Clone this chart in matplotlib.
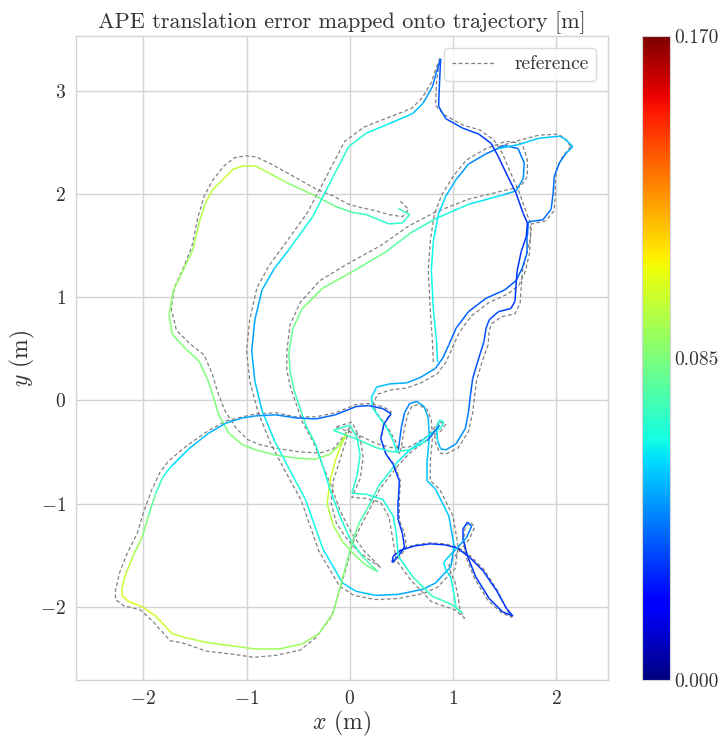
import matplotlib
matplotlib.use("Agg")
import matplotlib.pyplot as plt
import numpy as np
from matplotlib.collections import LineCollection
from matplotlib.colors import Normalize

plt.rcParams.update({
    "font.family": "serif",
    "font.serif": ["cmr10"],
    "mathtext.fontset": "cm",
    "axes.formatter.use_mathtext": True,
    "axes.unicode_minus": True,
})

# estimated trajectory (x, y) in m and APE translation error (m) per pose, one list per stretch
est_a = [(0.47, 1.86), (0.58, 1.80), (0.51, 1.72), (0.38, 1.71), (0.28, 1.75), (0.16, 1.80), (0.03, 1.82),
         (-0.14, 1.88), (-0.33, 1.98), (-0.59, 2.10), (-0.78, 2.20), (-0.91, 2.27), (-1.04, 2.27), (-1.13, 2.24),
         (-1.23, 2.14), (-1.33, 2.04), (-1.40, 1.91), (-1.46, 1.72), (-1.52, 1.46), (-1.62, 1.25), (-1.71, 1.06),
         (-1.75, 0.83), (-1.72, 0.64), (-1.59, 0.50), (-1.46, 0.38), (-1.38, 0.21), (-1.33, 0.06), (-1.27, -0.14),
         (-1.17, -0.32), (-1.04, -0.43), (-0.91, -0.48), (-0.72, -0.53), (-0.52, -0.56), (-0.33, -0.57),
         (-0.19, -0.52), (-0.10, -0.43), (-0.03, -0.32), (-0.09, -0.45), (-0.14, -0.58), (-0.19, -0.78),
         (-0.22, -1.00), (-0.16, -1.21), (-0.07, -1.37), (0.05, -1.50), (0.16, -1.60), (0.27, -1.66),
         (0.12, -1.51), (0.00, -1.34), (-0.10, -1.11), (-0.19, -0.87), (-0.26, -0.64), (-0.33, -0.43),
         (-0.43, -0.23), (-0.48, -0.08), (-0.54, 0.10), (-0.58, 0.29), (-0.59, 0.47), (-0.55, 0.70),
         (-0.46, 0.89), (-0.26, 1.09), (0.03, 1.25), (0.35, 1.44), (0.60, 1.63), (0.83, 1.76), (1.15, 1.90),
         (1.48, 1.99), (1.61, 2.03), (1.68, 2.15), (1.69, 2.30), (1.63, 2.44), (1.50, 2.47), (1.32, 2.39),
         (1.15, 2.29), (1.03, 2.14), (0.93, 1.98), (0.86, 1.81), (0.81, 1.55), (0.79, 1.26), (0.81, 0.87),
         (0.84, 0.58), (0.85, 0.37)]
err_a = [0.07, 0.07, 0.07, 0.068, 0.07, 0.072, 0.075, 0.08, 0.085, 0.09, 0.093, 0.097, 0.099, 0.10,
         0.10, 0.099, 0.097, 0.095, 0.093, 0.091, 0.089, 0.087, 0.086, 0.086, 0.085, 0.085, 0.085, 0.085,
         0.085, 0.085, 0.085, 0.085, 0.086, 0.087, 0.09, 0.093, 0.097, 0.10, 0.102, 0.102, 0.10, 0.093,
         0.09, 0.087, 0.085, 0.08, 0.072, 0.068, 0.066, 0.065, 0.065, 0.067, 0.07, 0.072, 0.075, 0.078,
         0.08, 0.082, 0.085, 0.085, 0.085, 0.08, 0.075, 0.068, 0.062, 0.058, 0.05, 0.045, 0.042, 0.04,
         0.04, 0.042, 0.045, 0.05, 0.055, 0.06, 0.062, 0.063, 0.063, 0.062, 0.06]

est_b = [(2.16, 2.46), (2.09, 2.53), (2.03, 2.56), (1.83, 2.54), (1.64, 2.48), (1.44, 2.44)]
err_b = [0.055, 0.055, 0.055, 0.055, 0.055, 0.055]

est_c = [(2.16, 2.46), (2.09, 2.39), (2.03, 2.30), (1.98, 2.17), (1.97, 2.01), (1.95, 1.85), (1.87, 1.75),
         (1.73, 1.73), (1.72, 1.59), (1.72, 1.44), (1.67, 1.28), (1.61, 1.16), (1.50, 1.07), (1.32, 0.99),
         (1.15, 0.86), (1.03, 0.70), (0.96, 0.54), (0.90, 0.41), (0.83, 0.31), (0.68, 0.22), (0.55, 0.17),
         (0.39, 0.16), (0.26, 0.13), (0.21, 0.03), (0.22, -0.07), (0.29, -0.17), (0.36, -0.27),
         (0.42, -0.39), (0.46, -0.51)]
err_c = [0.055, 0.045, 0.04, 0.04, 0.04, 0.04, 0.04, 0.04, 0.04, 0.04, 0.038, 0.037, 0.037, 0.037,
         0.037, 0.038, 0.04, 0.042, 0.045, 0.048, 0.05, 0.052, 0.055, 0.058, 0.062, 0.065, 0.065,
         0.065, 0.065]

est_d = [(0.47, -0.48), (0.50, -0.26), (0.53, -0.12), (0.58, -0.03), (0.65, -0.01), (0.72, -0.06),
         (0.76, -0.17), (0.77, -0.36), (0.75, -0.58), (0.75, -0.78),
         (0.83, -0.86), (0.96, -1.12), (1.01, -1.41), (0.98, -1.61), (0.83, -1.77), (0.71, -1.83),
         (0.47, -1.88), (0.25, -1.89), (0.06, -1.85), (-0.07, -1.77), (-0.26, -1.44), (-0.43, -0.96),
         (-0.60, -0.64), (-0.73, -0.39), (-0.85, -0.10), (-0.92, 0.19), (-0.95, 0.48), (-0.92, 0.78),
         (-0.85, 1.07), (-0.73, 1.28), (-0.59, 1.46), (-0.36, 1.78), (-0.16, 2.17), (-0.01, 2.46),
         (0.16, 2.59), (0.38, 2.68), (0.61, 2.78), (0.71, 2.88), (0.80, 3.04), (0.84, 3.18), (0.88, 3.31),
         (0.87, 3.10), (0.86, 2.85), (0.93, 2.73), (1.09, 2.64), (1.25, 2.58), (1.37, 2.49), (1.44, 2.36),
         (1.53, 2.17), (1.61, 2.01), (1.68, 1.81), (1.72, 1.72), (1.71, 1.59), (1.66, 1.44), (1.62, 1.25),
         (1.60, 0.96), (1.56, 0.89), (1.44, 0.86), (1.35, 0.78), (1.32, 0.70), (1.30, 0.57), (1.24, 0.38),
         (1.19, 0.21), (1.17, 0.06), (1.15, -0.11), (1.12, -0.27), (1.03, -0.42), (0.93, -0.48),
         (0.88, -0.47), (0.85, -0.39), (0.84, -0.27), (0.87, -0.19), (0.91, -0.21), (0.88, -0.27),
         (0.80, -0.31), (0.70, -0.39), (0.58, -0.48), (0.46, -0.60), (0.38, -0.70), (0.28, -0.83),
         (0.18, -1.03), (0.09, -1.19), (0.03, -1.35), (-0.04, -1.61), (-0.11, -1.87), (-0.16, -2.06),
         (-0.30, -2.26), (-0.46, -2.36), (-0.69, -2.41), (-0.91, -2.41), (-1.13, -2.38), (-1.37, -2.35),
         (-1.59, -2.30), (-1.72, -2.26), (-1.88, -2.09), (-2.01, -2.00), (-2.14, -1.95), (-2.20, -1.90),
         (-2.21, -1.83), (-2.17, -1.68), (-2.10, -1.51), (-2.01, -1.32), (-1.95, -1.12), (-1.88, -0.90),
         (-1.81, -0.74), (-1.73, -0.64), (-1.56, -0.47), (-1.37, -0.32), (-1.20, -0.22), (-1.04, -0.17),
         (-0.91, -0.15), (-0.72, -0.14), (-0.52, -0.17), (-0.33, -0.18), (-0.14, -0.14), (0.06, -0.06),
         (0.18, -0.05), (0.32, -0.08), (0.40, -0.13), (0.33, -0.23), (0.30, -0.37), (0.35, -0.52),
         (0.42, -0.62), (0.48, -0.78), (0.47, -0.97), (0.47, -1.16), (0.51, -1.29), (0.53, -1.42),
         (0.47, -1.51), (0.41, -1.57), (0.42, -1.51), (0.50, -1.45), (0.63, -1.41), (0.78, -1.39),
         (0.92, -1.40), (1.04, -1.43), (1.16, -1.52), (1.29, -1.65), (1.42, -1.84), (1.52, -2.02),
         (1.58, -2.09), (1.48, -2.05), (1.35, -1.92), (1.22, -1.71), (1.14, -1.51), (1.10, -1.35),
         (1.10, -1.24), (1.14, -1.18), (1.18, -1.22), (1.13, -1.33), (1.05, -1.42), (0.97, -1.50),
         (0.91, -1.57), (0.93, -1.64), (0.98, -1.72), (1.01, -1.88), (1.03, -2.01), (1.09, -2.06),
         (0.99, -1.98), (0.90, -1.94), (0.80, -1.90), (0.61, -1.71), (0.47, -1.51), (0.45, -1.29),
         (0.42, -1.12), (0.32, -0.96), (0.16, -0.91), (0.02, -0.90), (0.07, -0.73), (0.10, -0.53),
         (0.07, -0.36), (0.00, -0.24), (-0.16, -0.29), (0.03, -0.36), (0.26, -0.46), (0.42, -0.50),
         (0.58, -0.48), (0.75, -0.39), (0.87, -0.24)]
err_d = [0.04, 0.04, 0.042, 0.045, 0.048, 0.05, 0.052, 0.053, 0.055, 0.055,
         0.055, 0.055, 0.05, 0.05, 0.05, 0.05, 0.05, 0.052, 0.055, 0.058, 0.062, 0.065, 0.065, 0.062,
         0.058, 0.052, 0.048, 0.048, 0.05, 0.055, 0.06, 0.065, 0.068, 0.068, 0.065, 0.06, 0.055, 0.05,
         0.045, 0.04, 0.035,
         0.035, 0.035, 0.035, 0.033, 0.032, 0.03, 0.03, 0.03, 0.03, 0.03, 0.03, 0.03, 0.03, 0.03, 0.03,
         0.032, 0.033, 0.035, 0.035, 0.035, 0.035, 0.035, 0.037, 0.04, 0.045, 0.045, 0.048, 0.05, 0.055,
         0.06, 0.065, 0.065, 0.065, 0.063, 0.06, 0.06, 0.062, 0.065, 0.068, 0.072, 0.078, 0.083, 0.086,
         0.087, 0.089, 0.09, 0.091, 0.092, 0.093, 0.094, 0.096, 0.098, 0.10, 0.102, 0.104, 0.105, 0.104,
         0.102, 0.10, 0.096, 0.09, 0.082, 0.075, 0.067, 0.06, 0.055, 0.052, 0.05, 0.05, 0.048, 0.045,
         0.042, 0.04, 0.038, 0.036, 0.035, 0.033, 0.033, 0.033, 0.033, 0.032, 0.032, 0.032, 0.032,
         0.032, 0.03, 0.03, 0.03, 0.03, 0.03, 0.03, 0.03, 0.03, 0.03, 0.03, 0.03, 0.03, 0.03, 0.03,
         0.03, 0.03, 0.03, 0.03, 0.03, 0.03, 0.033, 0.035, 0.04, 0.045, 0.05, 0.055, 0.058, 0.06, 0.062,
         0.065, 0.068,
         0.07, 0.07, 0.07, 0.07, 0.068, 0.066, 0.065, 0.065, 0.066, 0.068, 0.068, 0.068, 0.068, 0.068,
         0.068, 0.07, 0.07, 0.07, 0.068, 0.066, 0.065]

# reference (ground truth) trajectory, one list per stretch
ref_a = [(0.49, 1.93), (0.57, 1.85), (0.51, 1.78), (0.38, 1.80), (0.24, 1.84), (0.10, 1.87), (-0.01, 1.90),
         (-0.16, 1.98), (-0.33, 2.05), (-0.58, 2.19), (-0.78, 2.30), (-0.91, 2.36), (-1.01, 2.37),
         (-1.12, 2.35), (-1.22, 2.27), (-1.33, 2.13), (-1.41, 1.98), (-1.47, 1.78), (-1.53, 1.49),
         (-1.61, 1.29), (-1.70, 1.09), (-1.73, 0.89), (-1.68, 0.68), (-1.55, 0.55), (-1.41, 0.44),
         (-1.33, 0.25), (-1.28, 0.08), (-1.21, -0.10), (-1.10, -0.27), (-0.99, -0.38), (-0.87, -0.43),
         (-0.68, -0.47), (-0.48, -0.50), (-0.29, -0.51), (-0.16, -0.47), (-0.07, -0.36), (0.00, -0.26),
         (-0.04, -0.40), (-0.09, -0.56), (-0.16, -0.78), (-0.18, -1.00), (-0.13, -1.19), (-0.03, -1.34),
         (0.09, -1.47), (0.21, -1.56), (0.30, -1.62), (0.14, -1.46), (0.02, -1.29), (-0.09, -1.08),
         (-0.18, -0.83), (-0.27, -0.61), (-0.35, -0.41), (-0.46, -0.21), (-0.51, -0.06), (-0.57, 0.11),
         (-0.61, 0.29), (-0.61, 0.47), (-0.58, 0.73), (-0.48, 0.95), (-0.29, 1.16), (-0.01, 1.33),
         (0.30, 1.50), (0.57, 1.69), (0.82, 1.82), (1.15, 1.95), (1.48, 2.03), (1.65, 2.07), (1.72, 2.17),
         (1.72, 2.33), (1.67, 2.49), (1.51, 2.51), (1.32, 2.44), (1.13, 2.33), (1.00, 2.17), (0.89, 1.99),
         (0.82, 1.81), (0.78, 1.55), (0.76, 1.26), (0.78, 0.87), (0.80, 0.58), (0.81, 0.35)]
ref_b = [(2.14, 2.46), (2.07, 2.55), (2.01, 2.58), (1.83, 2.57), (1.64, 2.52), (1.44, 2.46)]
ref_c = [(2.14, 2.46), (2.06, 2.36), (2.01, 2.26), (1.99, 2.13), (1.99, 1.98), (1.98, 1.84), (1.90, 1.74),
         (1.76, 1.71), (1.75, 1.57), (1.74, 1.42), (1.70, 1.25), (1.64, 1.12), (1.53, 1.03), (1.35, 0.95),
         (1.18, 0.82), (1.06, 0.66), (0.99, 0.50), (0.93, 0.37), (0.85, 0.26), (0.69, 0.17), (0.55, 0.12),
         (0.39, 0.10), (0.27, 0.06), (0.23, -0.02), (0.25, -0.11), (0.32, -0.20), (0.39, -0.30),
         (0.45, -0.41), (0.48, -0.52)]
ref_d = [(0.49, -0.50), (0.53, -0.27), (0.56, -0.14), (0.60, -0.06), (0.66, -0.04), (0.75, -0.09),
         (0.79, -0.19), (0.80, -0.37), (0.78, -0.59), (0.78, -0.78),
         (0.87, -0.86), (1.00, -1.12), (1.05, -1.42), (1.02, -1.63), (0.85, -1.81), (0.72, -1.87),
         (0.47, -1.92), (0.25, -1.93), (0.04, -1.89), (-0.10, -1.80), (-0.30, -1.46), (-0.47, -0.97),
         (-0.64, -0.66), (-0.77, -0.41), (-0.89, -0.11), (-0.97, 0.19), (-1.00, 0.48), (-0.97, 0.78),
         (-0.90, 1.09), (-0.78, 1.31), (-0.64, 1.50), (-0.41, 1.82), (-0.20, 2.22), (-0.05, 2.51),
         (0.14, 2.65), (0.37, 2.74), (0.60, 2.83), (0.70, 2.93), (0.79, 3.08), (0.83, 3.20), (0.87, 3.31),
         (0.84, 3.08), (0.83, 2.86), (0.91, 2.77), (1.09, 2.67), (1.26, 2.62), (1.40, 2.52), (1.48, 2.39),
         (1.56, 2.20), (1.64, 2.02), (1.71, 1.82), (1.75, 1.72), (1.75, 1.57), (1.71, 1.42), (1.67, 1.24),
         (1.65, 0.94), (1.60, 0.84), (1.47, 0.81), (1.37, 0.74), (1.35, 0.67), (1.34, 0.54), (1.28, 0.37),
         (1.23, 0.20), (1.21, 0.05), (1.19, -0.12), (1.15, -0.30), (1.05, -0.46), (0.93, -0.52),
         (0.87, -0.51), (0.83, -0.41), (0.82, -0.29), (0.87, -0.21), (0.93, -0.23), (0.88, -0.30),
         (0.80, -0.34), (0.70, -0.42), (0.58, -0.51), (0.47, -0.63), (0.39, -0.73), (0.29, -0.86),
         (0.19, -1.06), (0.10, -1.23), (0.03, -1.38), (-0.04, -1.64), (-0.12, -1.91), (-0.18, -2.10),
         (-0.33, -2.30), (-0.48, -2.42), (-0.71, -2.47), (-0.93, -2.49), (-1.13, -2.46), (-1.39, -2.43),
         (-1.62, -2.35), (-1.74, -2.33), (-1.91, -2.14), (-2.03, -2.03), (-2.19, -1.99), (-2.27, -1.93),
         (-2.27, -1.84), (-2.23, -1.67), (-2.16, -1.49), (-2.06, -1.29), (-2.00, -1.09), (-1.92, -0.87),
         (-1.84, -0.70), (-1.76, -0.59), (-1.58, -0.44), (-1.38, -0.30), (-1.20, -0.20), (-1.04, -0.16),
         (-0.91, -0.13), (-0.72, -0.12), (-0.52, -0.16), (-0.33, -0.16), (-0.14, -0.12), (0.06, -0.04),
         (0.18, -0.03), (0.32, -0.06), (0.40, -0.11), (0.33, -0.23), (0.30, -0.37), (0.35, -0.52),
         (0.43, -0.62), (0.49, -0.78), (0.48, -0.97), (0.48, -1.16), (0.53, -1.29), (0.55, -1.42),
         (0.48, -1.52), (0.41, -1.58), (0.42, -1.51), (0.50, -1.44), (0.63, -1.40), (0.78, -1.38),
         (0.92, -1.39), (1.04, -1.42), (1.17, -1.51), (1.30, -1.64), (1.43, -1.84), (1.52, -2.03),
         (1.57, -2.10), (1.47, -2.06), (1.34, -1.94), (1.21, -1.73), (1.13, -1.53), (1.10, -1.36),
         (1.12, -1.22), (1.17, -1.18), (1.21, -1.23), (1.16, -1.34), (1.08, -1.44), (1.00, -1.53),
         (0.96, -1.60), (0.98, -1.68), (1.02, -1.76), (1.05, -1.91), (1.07, -2.04), (1.11, -2.11),
         (1.02, -2.03), (0.90, -1.99), (0.79, -1.95), (0.59, -1.74), (0.45, -1.55), (0.41, -1.31),
         (0.38, -1.13), (0.30, -0.99), (0.16, -0.95), (0.02, -0.94), (0.10, -0.76), (0.13, -0.55),
         (0.10, -0.37), (0.02, -0.21), (-0.14, -0.26), (0.05, -0.32), (0.26, -0.42), (0.42, -0.46),
         (0.58, -0.45), (0.75, -0.35), (0.88, -0.19)]

cbar_ticks = [0.0, 0.085, 0.17]
cbar_labels = ["0.000", "0.085", "0.170"]
err_max = 0.17

fig = plt.figure(figsize=(7.28, 7.37), dpi=100)
ax = fig.add_axes([0.104, 0.0773, 0.731, 0.8737])
cax = fig.add_axes([0.882, 0.0773, 0.038, 0.8737])

norm = Normalize(vmin=0.0, vmax=err_max)
cmap = plt.get_cmap("jet")

first = True
for ref in [ref_a, ref_b, ref_c, ref_d]:
    r = np.array(ref)
    ax.plot(r[:, 0], r[:, 1], ls="--", dashes=(3, 2), color="gray", lw=0.9,
            label="reference" if first else None, zorder=2)
    first = False

for est, err in [(est_a, err_a), (est_b, err_b), (est_c, err_c), (est_d, err_d)]:
    p = np.array(est)
    e = np.array(err)
    segs = np.stack([p[:-1], p[1:]], axis=1)
    lc = LineCollection(segs, cmap=cmap, norm=norm, linewidths=1.1, zorder=3)
    lc.set_array((e[:-1] + e[1:]) / 2)
    ax.add_collection(lc)

ax.set_xlim(-2.655, 2.5)
ax.set_ylim(-2.71, 3.53)
ax.set_xticks([-2, -1, 0, 1, 2])
ax.set_yticks([-2, -1, 0, 1, 2, 3])
ax.grid(True, color="#d3d3d3", lw=1.0)
ax.set_axisbelow(True)
for s in ax.spines.values():
    s.set_color("#d3d3d3")
    s.set_linewidth(1.0)
ax.tick_params(length=0, labelsize=14, pad=7, colors="#333333")
ax.set_xlabel("$x$ (m)", fontsize=17, color="#333333", labelpad=1)
ax.set_ylabel("$y$ (m)", fontsize=17, color="#333333", labelpad=2)
ax.set_title("APE translation error mapped onto trajectory [m]", fontsize=16, color="#333333")
leg = ax.legend(loc="upper right", fontsize=14, frameon=True, fancybox=True,
                handlelength=2.2, handletextpad=1.0, borderaxespad=0.6)
leg.get_frame().set_edgecolor("#d3d3d3")
for t in leg.get_texts():
    t.set_color("#333333")

sm = plt.cm.ScalarMappable(norm=norm, cmap=cmap)
cb = fig.colorbar(sm, cax=cax, ticks=cbar_ticks)
cb.ax.set_yticklabels(cbar_labels)
cb.ax.tick_params(length=0, labelsize=14, colors="#333333")
cb.outline.set_edgecolor("#d3d3d3")

fig.savefig("out.png", dpi=100)
